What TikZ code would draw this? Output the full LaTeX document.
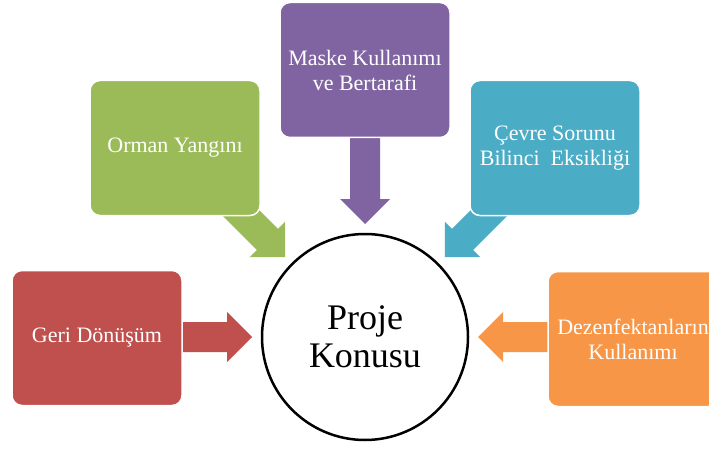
\documentclass[tikz,border=0pt]{standalone}
\usepackage{fontspec}
\setmainfont{Liberation Serif}
\usepackage{tikz}
\usetikzlibrary{calc}

\definecolor{kirmizi}{HTML}{C0504D}
\definecolor{yesil}{HTML}{9BBB59}
\definecolor{mor}{HTML}{8064A2}
\definecolor{turkuaz}{HTML}{4BACC6}
\definecolor{turuncu}{HTML}{F79646}

\tikzset{
  kutu/.style = {rectangle, rounded corners = 10pt, draw = white, line width = 1.5pt, minimum width = 170pt, minimum height = 135pt, text = white, align = center, font = \fontsize{22}{25}\selectfont},
}

% block arrow pointing at the circle, #2 = direction of the box seen from the circle
\newcommand{\okciz}[2]{%
  \begin{scope}[shift = {($(konu.center)+(#2:113)$)}, rotate = #2+180]
  \fill[#1] (0,0) -- (-25,25) -- (-25,15) -- (-95,15) -- (-95,-15) -- (-25,-15) -- (-25,-25) -- cycle;
  \end{scope}}

\begin{document}
\begin{tikzpicture}[x = 1pt, y = 1pt]
\useasboundingbox (0,0) rectangle (709,448);
\clip (0,0) rectangle (709,448);
\fill[white] (0,0) rectangle (709,448);
\node[circle, draw, line width = 2.5pt, minimum size = 206pt, inner sep = 0pt, align = center, font = \fontsize{36}{38}\selectfont] (konu) at (365,111) {Proje\\Konusu};
\okciz{kirmizi}{180}
\okciz{yesil}{135}
\okciz{mor}{90}
\okciz{turkuaz}{45}
\okciz{turuncu}{0}
\node[kutu, fill = kirmizi] (geri) at (97,110) {Geri Dönüşüm};
\node[kutu, fill = yesil] (orman) at (175,300) {Orman Yangını};
\node[kutu, fill = mor] (maske) at (365,378) {Maske Kullanımı\\ve Bertarafi};
\node[kutu, fill = turkuaz] (cevre) at (555,300) {Çevre Sorunu\\Bilinci\ \ Eksikliği};
\node[kutu, fill = turuncu] (dezen) at (633,109) {Dezenfektanların\\Kullanımı};
\end{tikzpicture}
\end{document}
